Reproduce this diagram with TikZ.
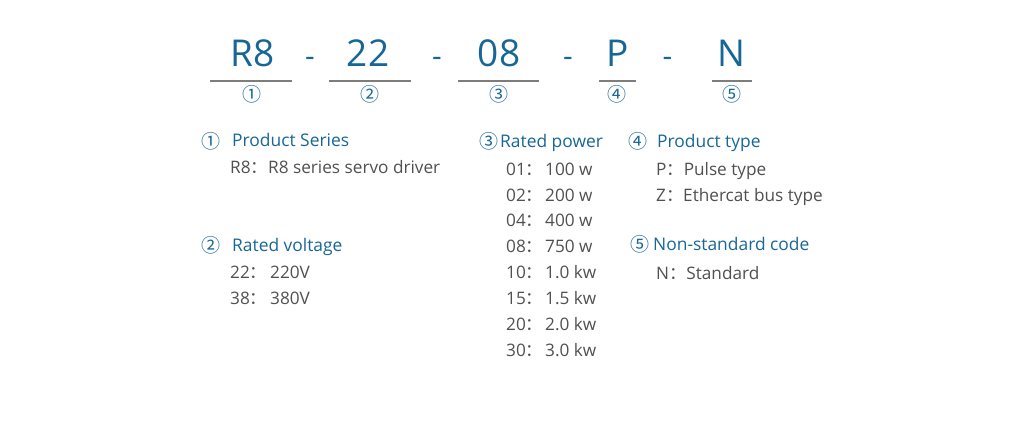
\documentclass[tikz,border=0pt]{standalone}
\usepackage{fontspec}
\setmainfont{Open Sans}
\newfontfamily\cjk{Noto Sans CJK SC}
\definecolor{codeblue}{RGB}{24,102,150}
\definecolor{itemgray}{RGB}{80,80,80}
\definecolor{linegray}{RGB}{125,125,125}
\tikzset{
  codetext/.style={text=codeblue, font=\fontsize{37}{37}\selectfont, inner sep=0pt, anchor=base},
  dashtext/.style={text=codeblue, font=\fontsize{30}{30}\selectfont, inner sep=0pt, anchor=base},
  ulline/.style={draw=linegray, line width=2pt},
  circnum/.style={text=codeblue, font=\cjk\fontsize{19}{19}\selectfont, inner sep=0pt, anchor=center},
  headtext/.style={text=codeblue, font=\fontsize{17.4}{17.4}\selectfont, inner sep=0pt, anchor=base west},
  itemtext/.style={text=itemgray, font=\fontsize{17.2}{17.2}\selectfont, inner sep=0pt, anchor=base west},
}
% key with full-width colon, set in a box of the given width, then the value
\newcommand{\kv}[3]{\makebox[#1pt][l]{#2{\cjk ：}}#3}
\newcommand{\kn}[2]{#1{\cjk ：}#2}
\begin{document}
\begin{tikzpicture}[x=1pt,y=-1pt]
\useasboundingbox (0,0) rectangle (1024,425);
% top code
\node[codetext] (cR) at (252.5,66.7) {R8};
\node[codetext] (c22) at (368,66.7) {22};
\node[codetext] (c08) at (499,66.7) {08};
\node[codetext] (cP) at (617.5,66.7) {P};
\node[codetext] (cN) at (731.5,66.7) {N};
\node[dashtext] (d1) at (310,66.7) {-};
\node[dashtext] (d2) at (437,66.7) {-};
\node[dashtext] (d3) at (568,66.7) {-};
\node[dashtext] (d4) at (667.5,66.7) {-};
\draw[ulline] (210,80.7) -- (292,80.7);
\draw[ulline] (329,80.7) -- (411,80.7);
\draw[ulline] (458,80.7) -- (539,80.7);
\draw[ulline] (599,80.7) -- (636,80.7);
\draw[ulline] (712,80.7) -- (752,80.7);
\node[circnum] (n1) at (252,94) {①};
\node[circnum] (n2) at (370,94) {②};
\node[circnum] (n3) at (499,94) {③};
\node[circnum] (n4) at (617,94) {④};
\node[circnum] (n5) at (732,94) {⑤};
% column 1
\node[circnum] (h1c) at (211,141.5) {①};
\node[headtext] (h1) at (232,146.5) {Product Series};
\node[itemtext] (i1a) at (230,173.5) {\kv{38}{R8}{R8 series servo driver}};
\node[circnum] (h2c) at (211,245.5) {②};
\node[headtext] (h2) at (232,251) {Rated voltage};
\node[itemtext] (i2a) at (230,278) {\kv{40}{22}{220V}};
\node[itemtext] (i2b) at (230,304) {\kv{40}{38}{380V}};
% column 2
\node[circnum] (h3c) at (489,141.5) {③};
\node[headtext] (h3) at (500,147.5) {Rated power};
\foreach \k/\v/\y [count=\i] in {01/100 w/175,02/200 w/201,04/400 w/226,08/750 w/252,10/1.0 kw/278,15/1.5 kw/304,20/2.0 kw/330,30/3.0 kw/356}{
  \node[itemtext] (i3\i) at (506,\y) {\kv{39}{\k}{\v}};
}
% column 3
\node[circnum] (h4c) at (638,141.5) {④};
\node[headtext] (h4) at (657,147) {Product type};
\node[itemtext] (i4a) at (656,175) {\kn{P}{Pulse type}};
\node[itemtext] (i4b) at (656,201) {\kn{Z}{Ethercat bus type}};
\node[circnum] (h5c) at (640,244.5) {⑤};
\node[headtext] (h5) at (653,250) {Non-standard code};
\node[itemtext] (i5a) at (656,279) {\kn{N}{Standard}};
\end{tikzpicture}
\end{document}
